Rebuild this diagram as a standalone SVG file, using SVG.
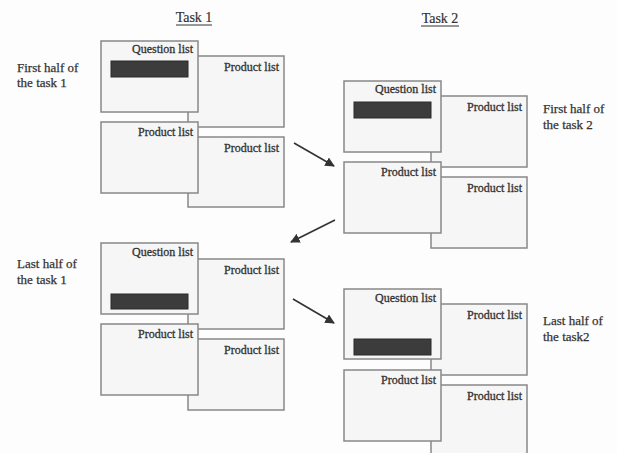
<svg xmlns="http://www.w3.org/2000/svg" width="617" height="453" viewBox="0 0 617 453">
  <defs>
    <style>
      .bg { fill: #fdfdfd; }
      .box { fill: #f6f6f6; stroke: #888; stroke-width: 1.5; }
      .bar { fill: #3c3c3c; stroke: #2a2a2a; stroke-width: 1; }
      .lbl { font-family: "Liberation Serif", "Times New Roman", serif; font-size: 12px; fill: #333; stroke: #333; stroke-width: 0.3; text-anchor: end; }
      .side { font-family: "Liberation Serif", "Times New Roman", serif; font-size: 13px; fill: #333; stroke: #333; stroke-width: 0.25; }
      .title { font-family: "Liberation Serif", "Times New Roman", serif; font-size: 14px; fill: #333; stroke: #333; stroke-width: 0.2; text-anchor: middle; }
      .ul { stroke: #333; stroke-width: 1; }
      .conn { stroke: #333; stroke-width: 1.6; fill: none; marker-end: url(#head); }
    </style>
    <marker id="head" viewBox="0 0 10 10" refX="9" refY="5" markerWidth="6" markerHeight="6" orient="auto" markerUnits="strokeWidth">
      <path d="M0,0 L10,5 L0,10 z" fill="#333"/>
    </marker>
  </defs>

  <rect class="bg" x="0" y="0" width="617" height="453"/>

  <!-- column titles -->
  <g id="title-task1">
    <text class="title" x="194" y="22">Task 1</text>
    <line class="ul" x1="176" y1="25" x2="212" y2="25"/>
  </g>
  <g id="title-task2">
    <text class="title" x="440" y="23">Task 2</text>
    <line class="ul" x1="421" y1="26" x2="459" y2="26"/>
  </g>

  <!-- phase captions -->
  <g id="caption-t1-first">
    <text class="side" x="17" y="72">First half of</text>
    <text class="side" x="17" y="87">the task 1</text>
  </g>
  <g id="caption-t1-last">
    <text class="side" x="17" y="268">Last half of</text>
    <text class="side" x="17" y="284">the task 1</text>
  </g>
  <g id="caption-t2-first">
    <text class="side" x="543" y="113">First half of</text>
    <text class="side" x="543" y="129">the task 2</text>
  </g>
  <g id="caption-t2-last">
    <text class="side" x="543" y="325">Last half of</text>
    <text class="side" x="543" y="341">the task2</text>
  </g>

  <!-- screen set: task 1, first half -->
  <g id="screens-t1-first" transform="translate(101,41)">
    <g id="t1f-product-a"><rect class="box" x="87" y="15" width="96" height="71"/><text class="lbl" x="178" y="30">Product list</text></g>
    <g id="t1f-question"><rect class="box" x="0" y="0" width="97" height="71"/><text class="lbl" x="92" y="12">Question list</text><rect class="bar" x="10" y="20" width="77" height="16"/></g>
    <g id="t1f-product-c"><rect class="box" x="87" y="96" width="96" height="70"/><text class="lbl" x="178" y="111">Product list</text></g>
    <g id="t1f-product-b"><rect class="box" x="0" y="81" width="97" height="71"/><text class="lbl" x="92" y="95">Product list</text></g>
  </g>

  <!-- screen set: task 2, first half -->
  <g id="screens-t2-first" transform="translate(344,81)">
    <g id="t2f-product-a"><rect class="box" x="87" y="15" width="96" height="71"/><text class="lbl" x="178" y="30">Product list</text></g>
    <g id="t2f-question"><rect class="box" x="0" y="0" width="97" height="71"/><text class="lbl" x="92" y="12">Question list</text><rect class="bar" x="10" y="21" width="77" height="16"/></g>
    <g id="t2f-product-c"><rect class="box" x="87" y="96" width="96" height="71"/><text class="lbl" x="178" y="111">Product list</text></g>
    <g id="t2f-product-b"><rect class="box" x="0" y="81" width="97" height="71"/><text class="lbl" x="92" y="95">Product list</text></g>
  </g>

  <!-- screen set: task 1, last half -->
  <g id="screens-t1-last" transform="translate(101,243)">
    <g id="t1l-product-a"><rect class="box" x="87" y="16" width="96" height="70"/><text class="lbl" x="178" y="31">Product list</text></g>
    <g id="t1l-question"><rect class="box" x="0" y="0" width="97" height="71"/><text class="lbl" x="92" y="13">Question list</text><rect class="bar" x="10" y="51" width="77" height="15"/></g>
    <g id="t1l-product-c"><rect class="box" x="87" y="96" width="96" height="71"/><text class="lbl" x="178" y="111">Product list</text></g>
    <g id="t1l-product-b"><rect class="box" x="0" y="81" width="97" height="71"/><text class="lbl" x="92" y="95">Product list</text></g>
  </g>

  <!-- screen set: task 2, last half -->
  <g id="screens-t2-last" transform="translate(344,289)">
    <g id="t2l-product-a"><rect class="box" x="87" y="15" width="96" height="71"/><text class="lbl" x="178" y="30">Product list</text></g>
    <g id="t2l-question"><rect class="box" x="0" y="0" width="97" height="70"/><text class="lbl" x="92" y="13">Question list</text><rect class="bar" x="10" y="50" width="77" height="16"/></g>
    <g id="t2l-product-c"><rect class="box" x="87" y="96" width="96" height="80"/><text class="lbl" x="178" y="111">Product list</text></g>
    <g id="t2l-product-b"><rect class="box" x="0" y="81" width="97" height="71"/><text class="lbl" x="92" y="95">Product list</text></g>
  </g>

  <!-- sequence arrows -->
  <g id="connectors">
    <line class="conn" x1="294" y1="143" x2="334" y2="166"/>
    <line class="conn" x1="335" y1="220" x2="291" y2="242"/>
    <line class="conn" x1="293" y1="299" x2="334" y2="323"/>
  </g>
</svg>
